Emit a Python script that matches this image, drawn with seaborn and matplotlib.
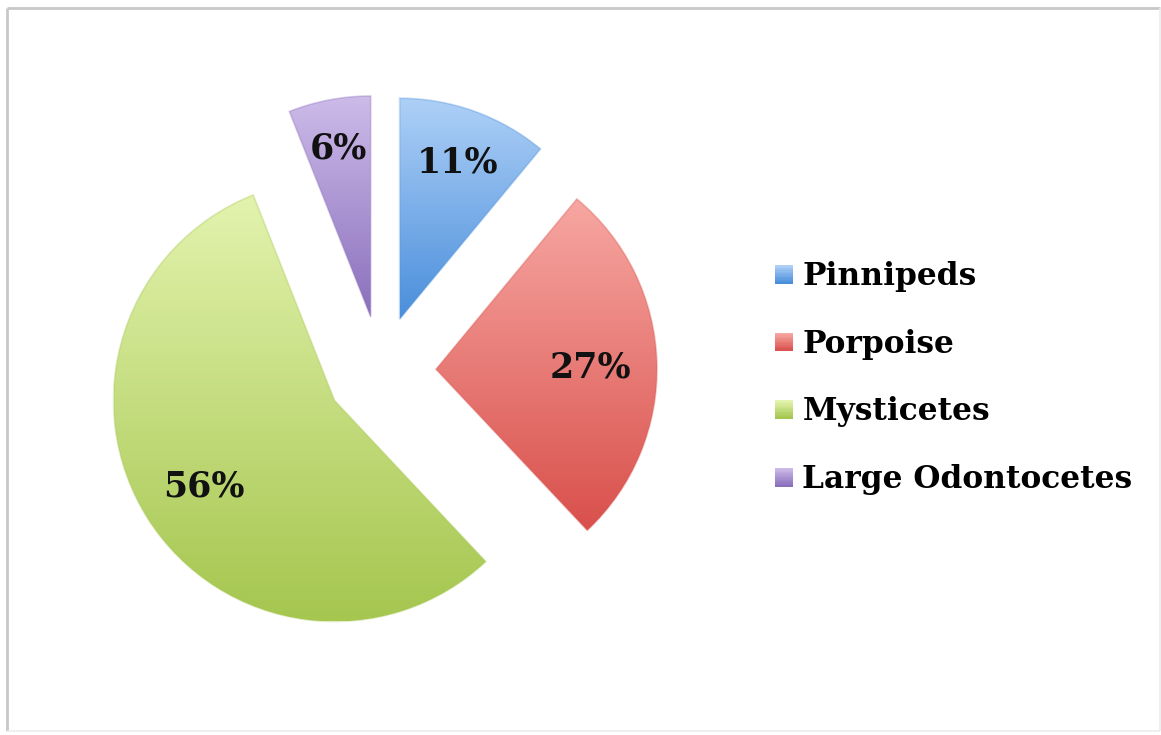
import numpy as np
import matplotlib
matplotlib.use("Agg")
import matplotlib.pyplot as plt
import seaborn as sns
from matplotlib.legend_handler import HandlerBase
from matplotlib.patches import Rectangle
from matplotlib.lines import Line2D

# Share of detections by animal group (percent)
categories = ["Pinnipeds", "Porpoise", "Mysticetes", "Large Odontocetes"]
shares = [11, 27, 56, 6]

# Gradient end colours for each slice (top -> bottom)
light_tones = ["#aed0f7", "#f7a7a2", "#e3f3ae", "#cdbbe9"]
dark_tones = ["#4a8edb", "#d9504c", "#a5c64f", "#8a6fbc"]

sns.set_theme(style="white")
plt.rcParams["font.family"] = ["DejaVu Serif"]
plt.rcParams["text.color"] = "black"

W, H = 1161, 735
fig = plt.figure(figsize=(W / 100, H / 100), dpi=100)
fig.patch.set_facecolor("white")
ax = fig.add_axes([0, 0, 1, 1])

R = 221
center = (381, H - 371)
offset = 55
label_dist = [0.77, 0.70, 0.70, 0.79]   # radial position of each percentage label

wedges, texts, autotexts = ax.pie(
    shares,
    explode=[offset] * len(shares),
    radius=R,
    center=center,
    startangle=90,
    counterclock=False,
    autopct=lambda p: f"{int(round(p))}%",
    textprops=dict(fontsize=25, fontweight="bold", color="#111111"),
    frame=True,
)

# Vertical gradient fill clipped to each slice
grad = np.linspace(0, 1, 256).reshape(-1, 1)
for w, lo, hi in zip(wedges, light_tones, dark_tones):
    cmap = sns.blend_palette([hi, lo], as_cmap=True)
    ext = w.get_path().get_extents()
    im = ax.imshow(grad, cmap=cmap, origin="lower", aspect="auto",
                   interpolation="bicubic",
                   extent=[ext.x0, ext.x1, ext.y0, ext.y1], zorder=1)
    im.set_clip_path(w)
    w.set_facecolor("none")
    w.set_edgecolor(matplotlib.colors.to_rgba(hi, 0.35))
    w.set_linewidth(1.2)
    w.set_zorder(2)

# Place percentage labels along each slice's bisector
for w, t, d in zip(wedges, autotexts, label_dist):
    mid = np.deg2rad((w.theta1 + w.theta2) / 2)
    cx, cy = w.center
    t.set_position((cx + d * w.r * np.cos(mid), cy + d * w.r * np.sin(mid)))
    t.set_va("center_baseline")
    t.set_zorder(3)

ax.set_xlim(0, W)
ax.set_ylim(0, H)
ax.set_aspect("equal")
ax.axis("off")


class GradientSwatch(HandlerBase):
    def __init__(self, lo, hi, steps=14):
        super().__init__()
        self.colors = sns.blend_palette([lo, hi], n_colors=steps)

    def create_artists(self, legend, orig_handle, xdescent, ydescent,
                       width, height, fontsize, trans):
        n = len(self.colors)
        side = min(width, height)
        arts = []
        for i, c in enumerate(self.colors):
            y = -ydescent + side * (n - 1 - i) / n
            arts.append(Rectangle((-xdescent, y), side, side / n + 0.3,
                                  facecolor=c, edgecolor="none",
                                  transform=trans))
        return arts


handles = [Rectangle((0, 0), 1, 1) for _ in categories]
hmap = {h: GradientSwatch(lo, hi) for h, lo, hi in zip(handles, light_tones, dark_tones)}
leg = ax.legend(
    handles, categories, handler_map=hmap,
    loc="center left", bbox_to_anchor=(775, H - 378),
    bbox_transform=ax.transData, frameon=False,
    borderpad=0, borderaxespad=0,
    prop=dict(family="DejaVu Serif", weight="bold", size=22.5),
    handlelength=0.58, handleheight=0.58, handletextpad=0.3,
    labelspacing=1.17,
)
for txt in leg.get_texts():
    txt.set_color("black")

# Thin panel border with a soft shadowed look
def px_line(x0, y0, x1, y1, color, lw):
    fig.add_artist(Line2D([x0 / W, x1 / W], [1 - y0 / H, 1 - y1 / H],
                          transform=fig.transFigure, color=color, lw=lw,
                          solid_capstyle="butt"))

px_line(7, 8, 1160, 8, "#c8c8c8", 2.0)
px_line(7, 8, 7, 731, "#c8c8c8", 2.0)
px_line(1160, 8, 1160, 731, "#ececec", 1.2)
px_line(7, 731, 1160, 731, "#ececec", 1.2)

fig.savefig("out.png", dpi=100, facecolor="white")
